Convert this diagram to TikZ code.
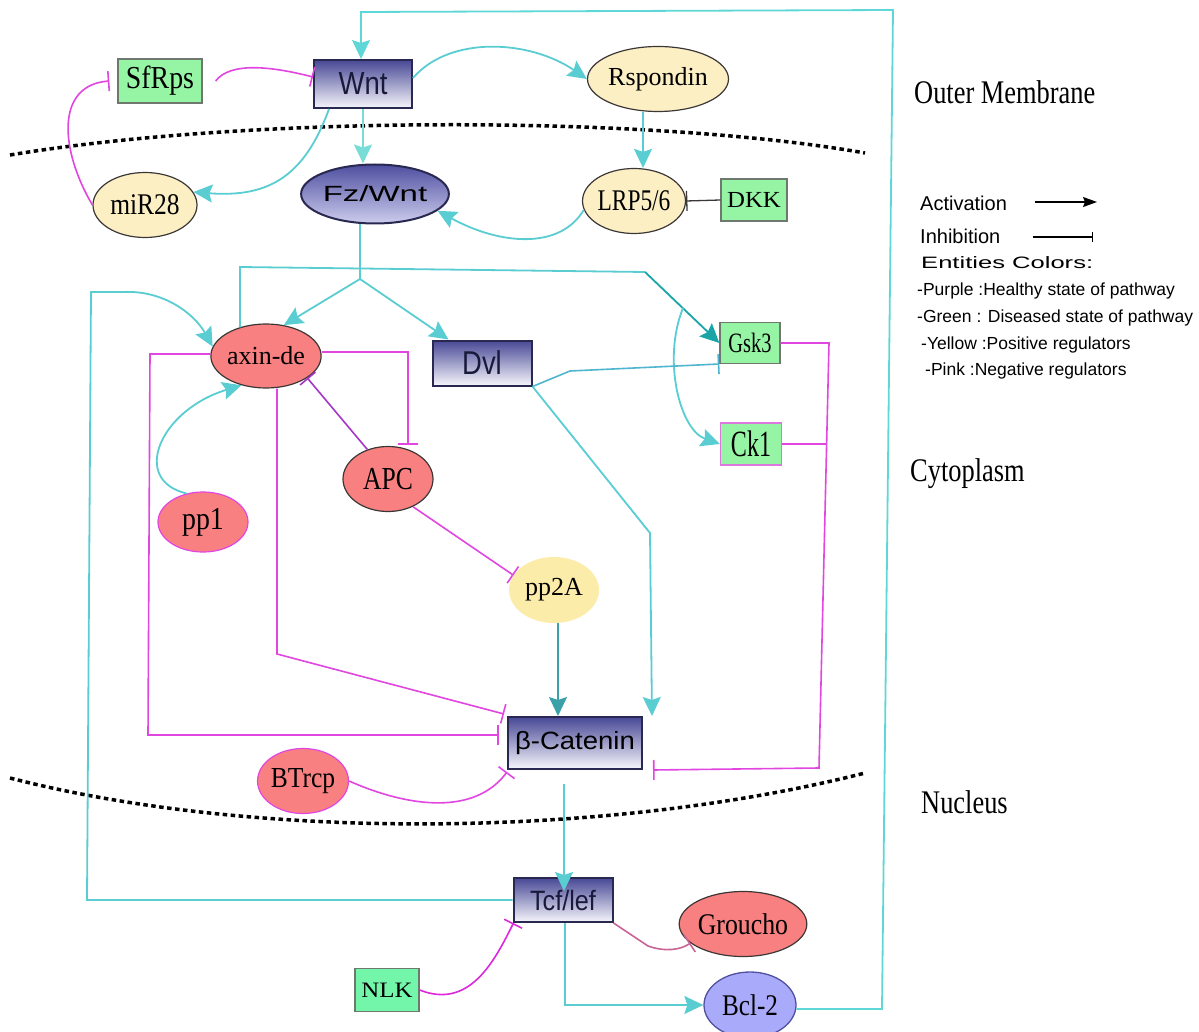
\documentclass[tikz,border=0pt]{standalone}
\usepackage{fontspec}
\usepackage{graphicx}
\setmainfont{Liberation Serif}
\setsansfont{Liberation Sans}
\usetikzlibrary{arrows.meta,shapes.geometric}

% label text: size (pt), horizontal stretch, text
\newcommand{\nodetext}[3]{\scalebox{#2}[1]{\fontsize{#1pt}{#1pt}\selectfont #3}}

\definecolor{cy}{RGB}{90,205,210}
\definecolor{cylight}{RGB}{120,220,215}
\definecolor{cyloop}{RGB}{95,215,215}
\definecolor{teal}{RGB}{25,165,168}
\definecolor{tealdk}{RGB}{60,160,168}
\definecolor{cyblue}{RGB}{80,182,208}
\definecolor{mg}{RGB}{225,70,225}
\definecolor{mgdk}{RGB}{165,55,200}
\definecolor{mgnlk}{RGB}{220,40,220}
\definecolor{mauve}{RGB}{200,100,150}
\definecolor{navy}{RGB}{40,40,80}
\definecolor{navytext}{RGB}{25,25,60}
\definecolor{pbtop}{RGB}{72,72,150}
\definecolor{pbbot}{RGB}{246,246,252}
\definecolor{fztop}{RGB}{78,78,160}
\definecolor{fzbot}{RGB}{205,205,238}
\definecolor{grn}{RGB}{150,245,165}
\definecolor{grnnlk}{RGB}{115,245,170}
\definecolor{gbord}{RGB}{110,120,110}
\definecolor{ckbord}{RGB}{220,120,220}
\definecolor{yel}{RGB}{252,239,196}
\definecolor{yel2}{RGB}{252,236,170}
\definecolor{pnk}{RGB}{248,128,128}
\definecolor{dk}{RGB}{60,55,55}
\definecolor{lav}{RGB}{170,170,250}
\definecolor{lavbord}{RGB}{80,80,160}

\tikzset{
  act/.style={draw=cy, line width=1.8pt, -{Stealth[length=19pt,width=18pt,inset=3pt]}},
  inh/.style={draw=mg, line width=1.6pt, -{Bar[width=20pt]}},
  pbox/.style={rectangle, draw=navy, line width=2pt, top color=pbtop, bottom color=pbbot,
    inner sep=0pt, font=\sffamily, text=navytext},
  gbox/.style={rectangle, draw=gbord, line width=1.3pt, fill=grn, inner sep=0pt},
  yell/.style={ellipse, draw=dk, line width=1.2pt, fill=yel, inner sep=0pt},
  pinkell/.style={ellipse, draw=dk, line width=1.2pt, fill=pnk, inner sep=0pt},
  membrane/.style={draw=black, line width=3.5pt, dash pattern=on 4.5pt off 3.5pt},
  legend/.style={anchor=west, inner sep=0pt, font=\sffamily},
  region/.style={anchor=west, inner sep=0pt},
}

\begin{document}
\begin{tikzpicture}[x=1pt,y=-1pt]
\useasboundingbox (0,0) rectangle (1199,1032);

% compartment boundaries
\draw[membrane] (10,155) .. controls (250,115) and (650,115) .. (865,153);
\draw[membrane] (10,778) .. controls (250,840) and (600,840) .. (865,773);

% ---------- entities ----------
\node[pbox, minimum width=98pt, minimum height=48pt] (wnt) at (363,84) {\nodetext{32}{0.86}{Wnt}};
\node[gbox, minimum width=84pt, minimum height=44pt] (sfrps) at (160,81) {\nodetext{32}{0.87}{SfRps}};
\node[yell, minimum width=104pt, minimum height=65pt] (mir) at (145,205) {\nodetext{30}{0.85}{miR28}};
\node[ellipse, draw=navy, line width=2pt, top color=fztop, bottom color=fzbot, inner sep=0pt,
      minimum width=134pt, minimum height=59pt, font=\sffamily, text=black] (fz) at (375,194) {\nodetext{22}{1.5}{Fz/Wnt}};
\node[yell, minimum width=126pt, minimum height=65pt] (rsp) at (658,79) {\nodetext{26}{1.0}{Rspondin}};
\node[yell, minimum width=102pt, minimum height=65pt] (lrp) at (634,201) {\nodetext{30}{0.78}{LRP5/6}};
\node[gbox, minimum width=66pt, minimum height=42pt] (dkk) at (754,200) {\nodetext{23}{1.08}{DKK}};

\node[pinkell, minimum width=102pt, minimum height=64pt] (axin) at (266,356) {\nodetext{26}{1.0}{axin-de}};
\node[pbox, minimum width=99pt, minimum height=45pt] (dvl) at (482,363) {\nodetext{33}{0.83}{Dvl}};
\node[gbox, minimum width=60pt, minimum height=41pt] (gsk) at (750,343) {\nodetext{28}{0.73}{Gsk3}};
\node[gbox, draw=ckbord, minimum width=61pt, minimum height=42pt] (ck) at (751,444) {\nodetext{37}{0.65}{Ck1}};
\node[pinkell, minimum width=90pt, minimum height=65pt] (apc) at (388,479) {\nodetext{32}{0.8}{APC}};
\node[pinkell, draw=mg, minimum width=90pt, minimum height=60pt] (pp1) at (203,522) {\nodetext{32}{0.87}{pp1}};
\node[ellipse, fill=yel2, inner sep=0pt, minimum width=90pt, minimum height=66pt] (pp2a) at (554,590) {\nodetext{26}{1.0}{pp2A}};
\node[pbox, minimum width=134pt, minimum height=52pt, text=black] (bcat) at (575,743) {\nodetext{25}{1.1}{β-Catenin}};
\node[pinkell, draw=mg, minimum width=90pt, minimum height=65pt] (btrcp) at (303,781) {\nodetext{29}{0.88}{BTrcp}};

\node[pbox, minimum width=99pt, minimum height=44pt] (tcf) at (563,900) {\nodetext{28}{0.9}{Tcf/lef}};
\node[pinkell, minimum width=118pt, minimum height=65pt] (grou) at (743,924) {\nodetext{30}{0.86}{Groucho}};
\node[gbox, fill=grnnlk, minimum width=64pt, minimum height=43pt] (nlk) at (387,990) {\nodetext{22}{1.13}{NLK}};
\node[ellipse, draw=lavbord, line width=1.3pt, fill=lav, inner sep=0pt, minimum width=92pt, minimum height=66pt] (bcl) at (750,1005) {\nodetext{30}{0.84}{Bcl-2}};

% ---------- membrane level ----------
\draw[act, draw=cyloop] (bcl.-5) -- (882,1009) -- (893,10) -- (361,12) -- ([xshift=-2pt]wnt.north);
\draw[act] ([yshift=6pt]wnt.east) .. controls (450,35) and (530,40) .. (rsp.west);
\draw[act, draw=cylight] (wnt.south) -- (wnt.south |- fz.north);
\draw[act] ([xshift=-34pt]wnt.south) .. controls (305,175) and (270,198) .. (mir.15);
\draw[inh] ([xshift=13pt]sfrps.east) .. controls (230,62) and (270,66) .. ([yshift=7pt]wnt.west);
\draw[inh] (mir.west) .. controls (60,150) and (55,85) .. ([xshift=-8pt]sfrps.west);
\draw[act] ([xshift=-15pt]rsp.south) -- ([xshift=-15pt]rsp.south |- lrp.north);
\draw[act] (lrp.190) .. controls (560,250) and (500,245) .. (fz.-15);
\draw[inh, draw=dk, line width=1.3pt] (dkk.west) -- (lrp.east);

% ---------- cytoplasm ----------
\coordinate (br) at (360,279);
\coordinate (kink) at (645,272);
\coordinate (split) at (683,308);
\draw[draw=cy, line width=1.8pt] ([xshift=-15pt]fz.south) -- (br);
\draw[act] (br) -- (axin.60);
\draw[act] (br) -- ([xshift=17pt]dvl.north west);
\draw[draw=cy, line width=1.8pt] ([xshift=-26pt,yshift=-4pt]axin.north) -- (240,267) -- (kink);
\draw[act, draw=teal] (kink) -- (gsk.west);
\draw[act] (split) .. controls (662,360) and (680,430) .. (ck.west);
\draw[inh, draw=cyblue] (dvl.south east) -- (570,371) -- ([yshift=-21pt]gsk.west);
\draw[act] (dvl.south east) -- (650,533) -- ([xshift=9pt]bcat.north east);

\draw[inh] (gsk.east) -- (829,343) -- (819,768) -- ([xshift=10pt]bcat.south east);
\draw[draw=mg, line width=1.6pt] (ck.east) -- (826,444);

\draw[inh] ([yshift=4pt]axin.east) -- (408,352) -- ([xshift=20pt,yshift=1pt]apc.north);
\draw[inh, draw=mgdk] (apc.125) -- (axin.-28);
\draw[act] (pp1.120) .. controls (130,480) and (160,410) .. (axin.230);
\draw[act] (tcf.west) -- (87,900) -- (91,292) -- (123,292) .. controls (165,290) and (195,315) .. (axin.170);
\draw[inh] ([yshift=2pt]axin.west) -- (150,354) -- (148,735) -- ([xshift=-8pt,yshift=8pt]bcat.west);
\draw[inh] ([xshift=11pt]axin.south) -- (277,654) -- ([xshift=-3pt,yshift=2pt]bcat.north west);
\draw[inh] (apc.-48) -- (pp2a.160);
\draw[act, draw=tealdk] ([xshift=4pt]pp2a.south) -- ([xshift=4pt]pp2a.south |- bcat.north);
\draw[inh] (btrcp.east) .. controls (410,808) and (475,815) .. ([yshift=-2pt]bcat.south west);

% ---------- nucleus ----------
\draw[act] ([xshift=-11pt,yshift=-14pt]bcat.south) -- ([xshift=-11pt,yshift=-14pt]bcat.south |- tcf.north);
\draw[inh, draw=mauve] (tcf.south east) -- (648,946) .. controls (665,952) and (680,950) .. (grou.200);
\draw[inh, draw=mgnlk] (nlk.east) .. controls (470,1010) and (495,960) .. ([xshift=1pt]tcf.south west);
\draw[act] ([xshift=2pt]tcf.south) -- ([xshift=2pt]tcf.south |- bcl.west) -- (bcl.west);

% ---------- compartment names ----------
\node[region] (lblouter) at (914,92) {\nodetext{33}{0.8}{Outer Membrane}};
\node[region] (lblcyto) at (910,474) {\nodetext{33}{0.8}{Cytoplasm}};
\node[region] (lblnuc) at (921,802) {\nodetext{33}{0.8}{Nucleus}};

% ---------- legend ----------
\node[legend] (lgact) at (920,203) {\nodetext{20}{1.0}{Activation}};
\node[legend] (lginh) at (920,236) {\nodetext{20}{1.0}{Inhibition}};
\coordinate (lgact1) at (1035,202);
\coordinate (lgact2) at (1097,202);
\coordinate (lginh1) at (1033,237);
\coordinate (lginh2) at (1093,237);
\draw[line width=1.2pt, -{Stealth[length=14pt,width=10pt,inset=2pt]}] (lgact1) -- (lgact2);
\draw[line width=1.2pt, -{Bar[width=10pt]}] (lginh1) -- (lginh2);
\node[legend] (lgent) at (921,263) {\nodetext{16.5}{1.55}{Entities Colors:}};
\node[legend] (lgpur) at (917,291) {\nodetext{17.5}{1.0}{-Purple :Healthy state of pathway}};
\node[legend] (lggrn) at (917,318) {\nodetext{17.5}{1.0}{-Green : Diseased state of pathway}};
\node[legend] (lgyel) at (921,345) {\nodetext{17.5}{1.0}{-Yellow :Positive regulators}};
\node[legend] (lgpnk) at (925,371) {\nodetext{17.5}{1.0}{-Pink :Negative regulators}};
\end{tikzpicture}
\end{document}
